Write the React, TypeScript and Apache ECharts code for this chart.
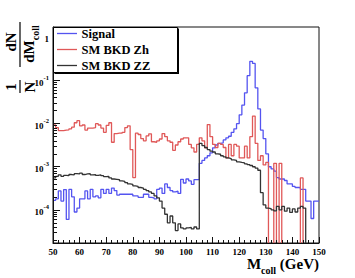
import React, { useEffect, useRef } from 'react';
import * as echarts from 'echarts';

const FONT = "'Liberation Serif', 'DejaVu Serif', serif";

const X_MIN = 50;
const X_MAX = 150;
const BIN_WIDTH = 1;
const Y_MIN = 1.7e-5;
const Y_MAX = 1.75;

const seriesNames = ['Signal', 'SM BKD Zh', 'SM BKD ZZ'];
const seriesColors = ['#5454f0', '#e05858', '#333333'];

// 1 GeV bins from 50 to 150 GeV, normalised 1/N dN/dM
const signal = [
  1.66e-4, 1.8e-4, 2.75e-4, 1.6e-4, 2.95e-4, 6.0e-5, 3.0e-4, 2.0e-4, 8.9e-5, 1.1e-4,
  1.8e-4, 1.8e-4, 2.75e-4, 1.8e-4, 3.0e-4, 2.0e-4, 2.1e-4, 1.9e-4, 3.0e-4, 2.4e-4,
  3.0e-4, 2.4e-4, 3.2e-4, 2.8e-4, 2.2e-4, 2.3e-4, 2.3e-4, 2.3e-4, 2.3e-4, 2.3e-4,
  2.1e-4, 2.1e-4, 1.95e-4, 1.95e-4, 2.3e-4, 2.3e-4, 1.95e-4, 1.9e-4, 1.8e-4, 3.0e-4,
  3.2e-4, 2.4e-4, 4.0e-4, 3.3e-4, 2.8e-4, 2.6e-4, 2.7e-4, 2.4e-4, 5.1e-4, 4.2e-4,
  5.2e-4, 4.7e-4, 3.9e-4, 5.0e-4, 5.0e-4, 1.2e-3, 1.4e-3, 1.6e-3, 1.8e-3, 2.1e-3,
  2.75e-3, 3.2e-3, 3.5e-3, 3.6e-3, 4.2e-3, 4.7e-3, 5.1e-3, 6.3e-3, 7.6e-3, 1.0e-2,
  1.6e-2, 2.7e-2, 5.2e-2, 0.13, 0.28, 0.25, 6.8e-2, 2.2e-2, 7.1e-3, 4.5e-3,
  2.0e-3, 1.0e-3, 8.9e-4, 7.9e-4, 5.6e-4, 5.2e-4, 5.2e-4, 4.8e-4, 4.0e-4, 4.0e-4,
  3.5e-4, 3.3e-4, 3.3e-4, 3.0e-4, 3.0e-4, 1.6e-4, 1.6e-4, 6.3e-5, 1.6e-4, 1.6e-4,
];

const smZh = [
  9.3e-3, 8.1e-3, 6.9e-3, 6.9e-3, 7.1e-3, 7.2e-3, 7.6e-3, 8.3e-3, 1.05e-2, 1.17e-2,
  8.9e-3, 9.3e-3, 7.1e-3, 7.9e-3, 7.9e-3, 8.1e-3, 1.0e-2, 9.3e-3, 7.9e-3, 6.3e-3,
  9.1e-3, 1.05e-2, 3.7e-3, 5.9e-3, 6.0e-3, 6.0e-3, 6.3e-3, 8.1e-3, 8.9e-3, 2.5e-3,
  5.6e-4, 6.0e-3, 5.6e-3, 4.5e-3, 4.0e-3, 5.2e-3, 5.8e-3, 3.8e-3, 3.7e-3, 4.0e-3,
  4.4e-3, 5.9e-3, 5.0e-3, 4.0e-3, 3.7e-3, 2.4e-3, 3.2e-3, 3.8e-3, 4.4e-3, 4.7e-3,
  4.7e-3, 3.3e-3, 2.75e-3, 2.2e-3, 3.3e-3, 4.7e-3, 4.0e-3, 2.75e-3, 9.5e-3, 5.0e-3,
  3.3e-3, 2.8e-3, 3.5e-3, 3.3e-3, 2.8e-3, 1.6e-3, 3.3e-3, 1.8e-3, 3.3e-3, 3.0e-3,
  1.6e-3, 1.6e-3, 3.0e-3, 1.6e-3, 5.0e-3, 1.5e-2, 3.5e-3, 1.4e-3, 1.8e-3, 1.1e-3,
  1.26e-3, 0, 0, 1.2e-3, 0, 1.2e-3, 0, 0, 0, 0,
  0, 0, 0, 5.5e-4, 0, 0, 0, 0, 0, 0,
];

const smZZ = [
  5.5e-4, 6.0e-4, 6.5e-4, 6.0e-4, 6.3e-4, 6.2e-4, 6.6e-4, 6.5e-4, 6.9e-4, 6.8e-4,
  7.1e-4, 6.6e-4, 6.8e-4, 6.9e-4, 6.5e-4, 6.6e-4, 6.3e-4, 6.5e-4, 6.2e-4, 5.9e-4,
  6.0e-4, 5.5e-4, 5.2e-4, 5.1e-4, 5.0e-4, 4.7e-4, 4.6e-4, 4.3e-4, 4.0e-4, 3.9e-4,
  3.6e-4, 3.5e-4, 3.3e-4, 3.2e-4, 3.0e-4, 2.8e-4, 2.6e-4, 2.4e-4, 2.1e-4, 1.9e-4,
  1.6e-4, 1.1e-4, 7.9e-5, 5.0e-5, 7.2e-5, 5.0e-5, 3.3e-5, 4.7e-5, 3.8e-5, 3.6e-5,
  3.8e-5, 3.9e-5, 3.6e-5, 4.0e-5, 3.6e-5, 3.5e-3, 3.1e-3, 2.8e-3, 2.5e-3, 2.3e-3,
  2.2e-3, 2.0e-3, 1.95e-3, 1.8e-3, 1.7e-3, 1.6e-3, 1.55e-3, 1.45e-3, 1.4e-3, 1.3e-3,
  1.26e-3, 1.23e-3, 1.17e-3, 1.12e-3, 1.07e-3, 1.0e-3, 9.3e-4, 8.3e-4, 2.5e-4, 1.3e-4,
  1.1e-4, 1.07e-4, 1.0e-4, 9.5e-5, 1.2e-4, 1.0e-4, 1.2e-4, 9.3e-5, 1.1e-4, 8.7e-5,
  1.05e-4, 8.9e-5, 1.1e-4, 1.2e-4, 1.1e-4, 0, 0, 0, 0, 0,
];

const seriesValues = [signal, smZh, smZZ];

// empty bins are sent far below the log axis so the outline drops to the frame
const EMPTY_BIN = 1e-9;

function histPoints(values: number[]): number[][] {
  const pts = values.map((v, i) => [X_MIN + i * BIN_WIDTH, v > 0 ? v : EMPTY_BIN]);
  const last = values[values.length - 1];
  pts.push([X_MIN + values.length * BIN_WIDTH, last > 0 ? last : EMPTY_BIN]);
  return pts;
}

function yLabel(value: number): string {
  const e = Math.log10(value);
  const r = Math.round(e);
  if (Math.abs(e - r) > 1e-6) return '';
  if (r === 0) return '{b|1}';
  return `{b|10}{s|${r}}`;
}

const subRich = {
  m: { fontFamily: FONT, fontWeight: 'bold', fontSize: 15, verticalAlign: 'top', color: '#000', fill: '#000' },
  s: { fontFamily: FONT, fontWeight: 'bold', fontSize: 10, lineHeight: 19, verticalAlign: 'bottom', color: '#000', fill: '#000' },
};

export default function App() {
  const ref = useRef<HTMLDivElement>(null);

  useEffect(() => {
    if (!ref.current) return;
    const chart = echarts.init(ref.current, undefined, { renderer: 'svg' });
    const axisColor = '#111';
    const bold = { fontFamily: FONT, fontWeight: 'bold' as const };

    const legendRows = seriesNames.map((name, i) => {
      const y = 33.5 + i * 16;
      return [
        {
          type: 'line',
          shape: { x1: 57, y1: y, x2: 77, y2: y },
          style: { stroke: seriesColors[i], lineWidth: 1.3 },
          z: 101,
        },
        {
          type: 'text',
          x: 81.5,
          y: y,
          style: {
            text: name,
            font: `bold 12.5px ${FONT}`,
            fill: '#000',
            textAlign: 'left',
            textVerticalAlign: 'middle',
            align: 'left',
            verticalAlign: 'middle',
          },
          z: 101,
        },
      ];
    }).flat();

    const centered = { textAlign: 'center', align: 'center', textVerticalAlign: 'middle', verticalAlign: 'middle' };

    const option: any = {
      animation: false,
      backgroundColor: '#ffffff',
      grid: {
        left: 53,
        top: 27,
        right: 36,
        bottom: 35,
        show: true,
        borderColor: axisColor,
        borderWidth: 1,
        backgroundColor: 'transparent',
      },
      xAxis: {
        type: 'value',
        min: X_MIN,
        max: X_MAX,
        interval: 10,
        z: 5,
        axisLine: { show: true, onZero: false, lineStyle: { color: axisColor, width: 1 } },
        axisTick: { show: true, inside: true, length: 6, lineStyle: { color: axisColor } },
        minorTick: { show: true, splitNumber: 5, length: 3, lineStyle: { color: axisColor } },
        axisLabel: { ...bold, fontSize: 9, color: '#000', margin: 4 },
        splitLine: { show: false },
      },
      yAxis: {
        type: 'log',
        logBase: 10,
        min: Y_MIN,
        max: Y_MAX,
        z: 5,
        axisLine: { show: true, onZero: false, lineStyle: { color: axisColor, width: 1 } },
        axisTick: { show: true, inside: true, length: 7, lineStyle: { color: axisColor } },
        minorTick: { show: true, splitNumber: 9, length: 4, lineStyle: { color: axisColor } },
        axisLabel: {
          formatter: yLabel,
          margin: 4,
          showMinLabel: false,
          showMaxLabel: false,
          rich: {
            b: { ...bold, fontSize: 9, color: '#000', lineHeight: 13, verticalAlign: 'bottom' },
            s: { ...bold, fontSize: 6.5, color: '#000', lineHeight: 7, verticalAlign: 'top' },
          },
        },
        splitLine: { show: false },
      },
      series: seriesNames.map((name, i) => ({
        name,
        type: 'line',
        step: 'end',
        symbol: 'none',
        clip: true,
        data: histPoints(seriesValues[i]),
        lineStyle: { color: seriesColors[i], width: 1.3 },
        itemStyle: { color: seriesColors[i] },
        z: 2 + i,
      })),
      graphic: [
        // legend box with shadow
        {
          type: 'rect',
          shape: { x: 54.5, y: 28.5, width: 124.5, height: 45.5 },
          style: { fill: '#000' },
          z: 99,
        },
        {
          type: 'rect',
          shape: { x: 53.5, y: 27.5, width: 124, height: 45 },
          style: { fill: '#fff', stroke: '#000', lineWidth: 1 },
          z: 100,
        },
        ...legendRows,
        // x-axis title
        {
          type: 'text',
          x: 319,
          y: 256.5,
          z: 100,
          style: {
            text: '{m|M}{s|coll}{m| (GeV)}',
            textAlign: 'right',
            align: 'right',
            textVerticalAlign: 'top',
            verticalAlign: 'top',
            rich: subRich,
          },
        },
        // y-axis title: 1/N dN/dM_coll, rotated
        {
          type: 'group',
          x: 20,
          y: 100,
          rotation: Math.PI / 2,
          z: 100,
          children: [
            {
              type: 'text', x: 13, y: -9.5,
              style: { text: '1', font: `bold 15px ${FONT}`, fill: '#000', ...centered },
            },
            {
              type: 'line', shape: { x1: 7, y1: 0, x2: 20, y2: 0 },
              style: { stroke: '#000', lineWidth: 1.2 },
            },
            {
              type: 'text', x: 13, y: 10,
              style: { text: 'N', font: `bold 15px ${FONT}`, fill: '#000', ...centered },
            },
            {
              type: 'text', x: 58, y: -9.5,
              style: { text: 'dN', font: `bold 15px ${FONT}`, fill: '#000', ...centered },
            },
            {
              type: 'line', shape: { x1: 33, y1: 0, x2: 78, y2: 0 },
              style: { stroke: '#000', lineWidth: 1.2 },
            },
            {
              type: 'text', x: 56, y: 1.5,
              style: {
                text: '{m|dM}{s|coll}',
                textAlign: 'center',
                align: 'center',
                textVerticalAlign: 'top',
                verticalAlign: 'top',
                rich: subRich,
              },
            },
          ],
        },
      ],
    };

    chart.setOption(option);
    return () => chart.dispose();
  }, []);

  return (
    <div
      ref={ref}
      style={{ position: 'absolute', left: 0, top: 0, width: 355, height: 278, background: '#fff' }}
    />
  );
}
